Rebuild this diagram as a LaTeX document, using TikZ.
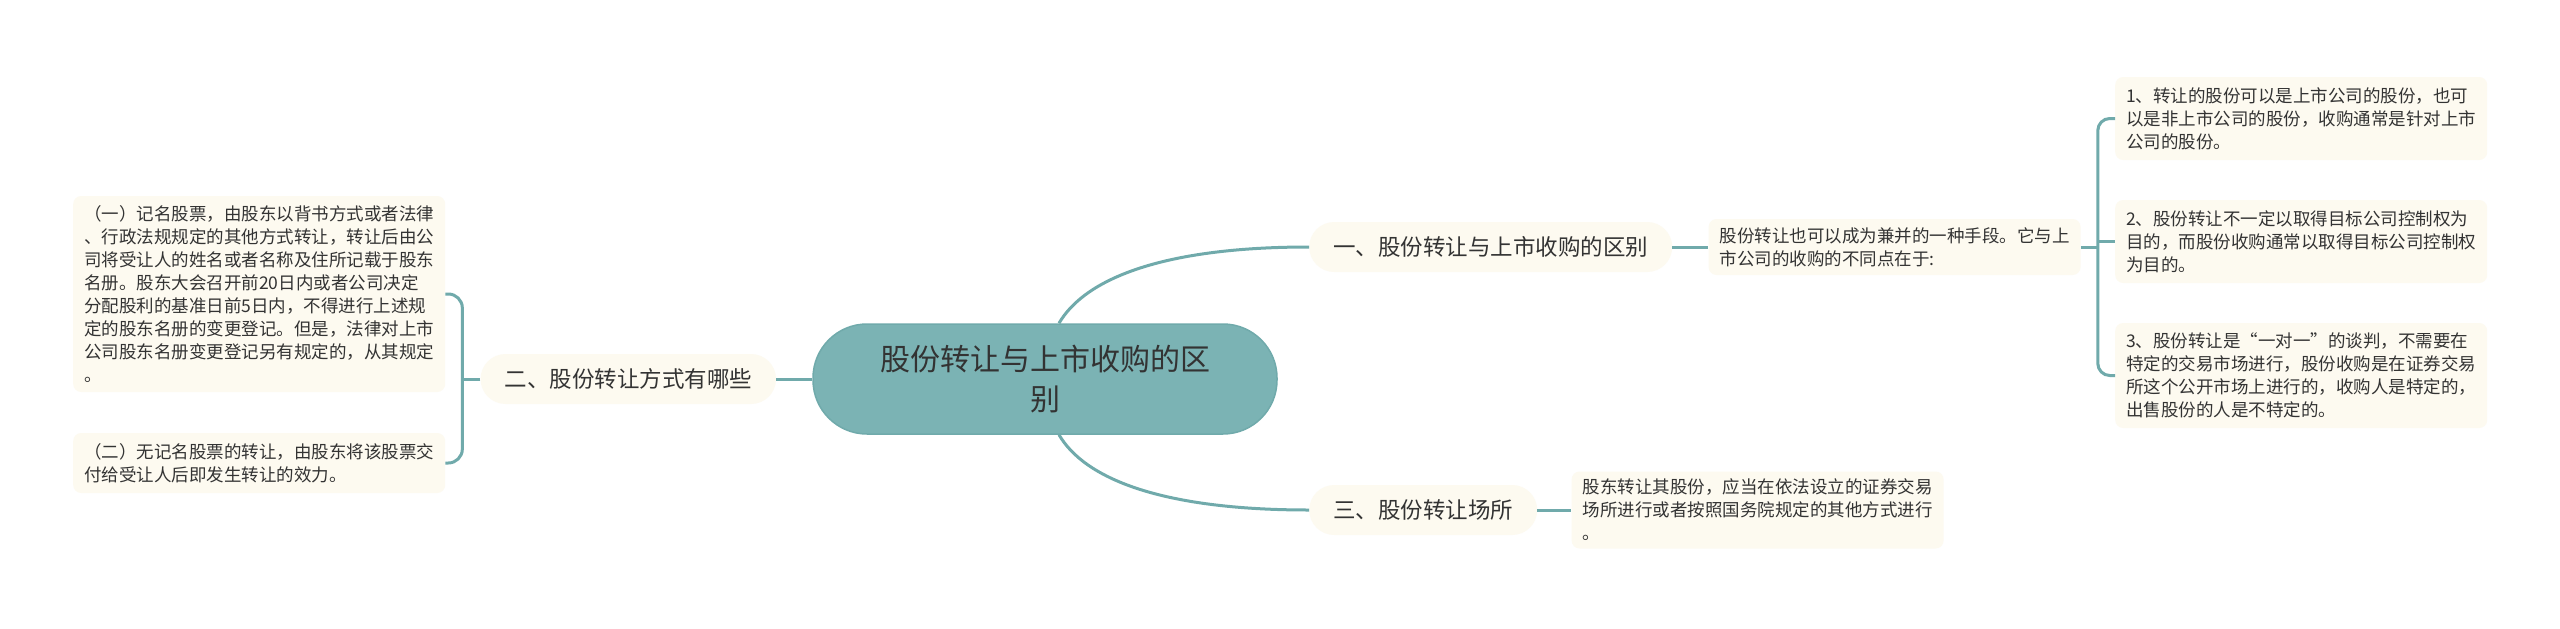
\documentclass[tikz,border=0pt]{standalone}
\usepackage{fontspec}
\newfontfamily\cjk{Noto Sans CJK SC}
\usepackage{xcolor}
\usetikzlibrary{positioning,calc}
\definecolor{rootfill}{RGB}{123,179,180}
\definecolor{linkcol}{RGB}{112,170,171}
\definecolor{cream}{RGB}{253,250,240}
\definecolor{ink}{RGB}{51,51,51}

\begin{document}
\begin{tikzpicture}[
  x=1pt,y=-1pt,
  font=\cjk,text=ink,
  root/.style={fill=rootfill,draw=linkcol,line width=1.5pt,rounded corners=54pt,align=center,minimum width=464pt,minimum height=110pt,font=\cjk\fontsize{30}{40}\selectfont},
  branch/.style={fill=cream,rounded corners=25pt,minimum height=50pt,inner xsep=24pt,font=\cjk\fontsize{22.5}{27}\selectfont},
  leaf/.style={fill=cream,rounded corners=8pt,text width=350pt,inner xsep=11pt,align=left,font=\cjk\fontsize{17.5}{23}\selectfont},
  link/.style={draw=linkcol,line width=3pt}
]
\fill[white] (0,0) rectangle (2560,629);
\node[root] (root) at (1045,379) {股份转让与上市收购的区\\别};
\node[branch,anchor=west] (b1) at (1309,247) {一、股份转让与上市收购的区别};
\node[branch,left=36pt of root] (b2) {二、股份转让方式有哪些};
\node[branch,anchor=west] (b3) at (1309,510) {三、股份转让场所};
\node[leaf,right=36pt of b1,minimum height=56pt] (d1) {股份转让也可以成为兼并的一种手段。它与上\\市公司的收购的不同点在于:};
\node[leaf,right=34pt of b3,minimum height=77pt] (d3) {股东转让其股份，应当在依法设立的证券交易\\场所进行或者按照国务院规定的其他方式进行\\。};
\node[leaf,anchor=west,minimum height=83pt] (r1) at (2115,118.5) {1、转让的股份可以是上市公司的股份，也可\\以是非上市公司的股份，收购通常是针对上市\\公司的股份。};
\node[leaf,anchor=west,minimum height=83pt] (r2) at (2115,241.5) {2、股份转让不一定以取得目标公司控制权为\\目的，而股份收购通常以取得目标公司控制权\\为目的。};
\node[leaf,anchor=west,minimum height=105pt] (r3) at (2115,375.5) {3、股份转让是“一对一”的谈判，不需要在\\特定的交易市场进行，股份收购是在证券交易\\所这个公开市场上进行的，收购人是特定的，\\出售股份的人是不特定的。};
\node[leaf,anchor=west,minimum height=196pt] (l1) at (73,294) {（一）记名股票，由股东以背书方式或者法律\\、行政法规规定的其他方式转让，转让后由公\\司将受让人的姓名或者名称及住所记载于股东\\名册。股东大会召开前20日内或者公司决定\\分配股利的基准日前5日内，不得进行上述规\\定的股东名册的变更登记。但是，法律对上市\\公司股东名册变更登记另有规定的，从其规定\\。};
\node[leaf,anchor=west,minimum height=60pt] (l2) at (73,463) {（二）无记名股票的转让，由股东将该股票交\\付给受让人后即发生转让的效力。};
\draw[link] (root) -- (b2);
\draw[link] ([xshift=14pt]root.north) .. controls +(25,-43) and +(-150,0) .. (b1.west);
\draw[link] ([xshift=14pt]root.south) .. controls +(25,43) and +(-150,0) .. (b3.west);
\draw[link] (b1) -- (d1);
\draw[link] (b3) -- (d3);
\coordinate (rj) at ($(d1.east)+(17,0)$);
\draw[link] (d1.east) -- (rj);
\draw[link,rounded corners=12pt] (r1.west) -| (rj) |- (r3.west);
\draw[link] (rj |- r2.west) -- (r2.west);
\coordinate (lj) at ($(b2.west)+(-18,0)$);
\draw[link] (b2.west) -- (lj);
\draw[link,rounded corners=14pt] (l1.east) -| (lj) |- (l2.east);
\end{tikzpicture}
\end{document}
